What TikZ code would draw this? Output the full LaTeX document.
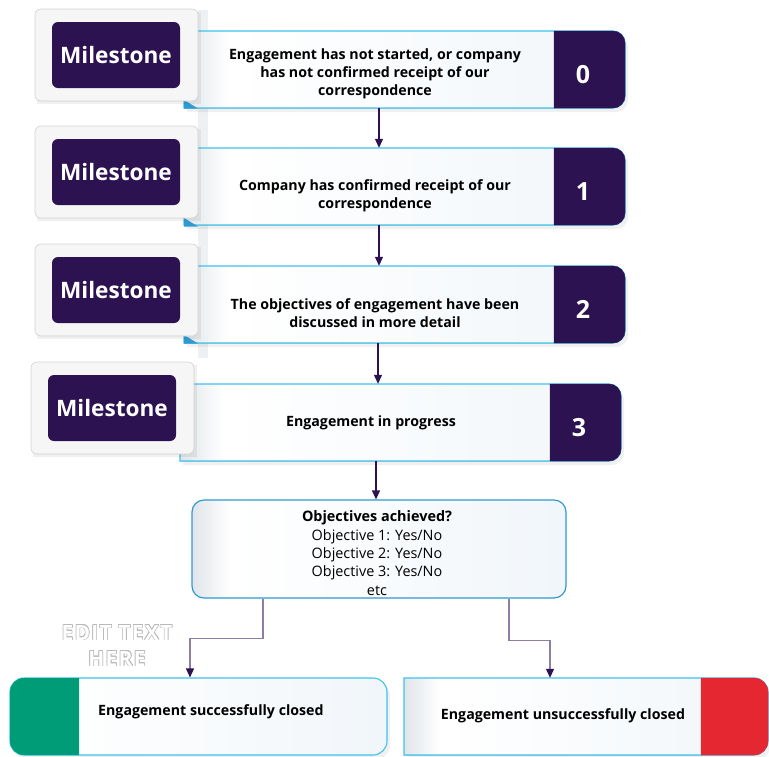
\documentclass[tikz,border=0pt]{standalone}
\usepackage{fontspec}
\setmainfont{Open Sans}
\usepackage[copies]{contour}
\usetikzlibrary{arrows.meta}
\definecolor{mpurple}{HTML}{2C1250}
\definecolor{mcyan}{HTML}{3EC3EE}
\definecolor{dblue}{HTML}{2E9AD0}
\definecolor{mgreen}{HTML}{009B77}
\definecolor{mred}{HTML}{E52731}
\definecolor{cardfill}{HTML}{F6F6F6}
\definecolor{cardline}{HTML}{D2D2D2}
\definecolor{lineg}{HTML}{8C7FA3}
\definecolor{shadeL}{HTML}{E0E5E9}
\definecolor{shadeR}{HTML}{F1F6FA}
\definecolor{stripc}{HTML}{EEF1F3}
\pgfdeclarehorizontalshading{boxsh}{100bp}{color(0bp)=(shadeL); color(25bp)=(shadeL); color(30bp)=(white); color(75bp)=(shadeR); color(100bp)=(shadeR)}
\tikzset{
  rr/.style n args={5}{insert path={(#1,#2) -- ({#3-#5},#2) arc[start angle=-90,end angle=0,radius=#5] -- (#3,{#4-#5}) arc[start angle=0,end angle=90,radius=#5] -- (#1,#4) -- cycle}},
  lr/.style n args={5}{insert path={({#1+#5},#2) -- (#3,#2) -- (#3,#4) -- ({#1+#5},#4) arc[start angle=90,end angle=180,radius=#5] -- (#1,{#2+#5}) arc[start angle=180,end angle=270,radius=#5] -- cycle}},
  boxshade/.style={shading=boxsh, shading angle=0},
  shadowc/.style={fill=black, opacity=0.06},
  boxline/.style={draw=mcyan, line width=1.1pt},
  cardn/.style={draw=cardline, line width=0.6pt, fill=cardfill, rounded corners=6pt, inner sep=0pt},
  msn/.style={fill=mpurple, rounded corners=6pt, text=white, font=\bfseries\fontsize{22.6}{26}\selectfont, minimum width=128pt, minimum height=66pt, inner sep=0pt},
  boxn/.style={inner sep=0pt, minimum width=441pt, minimum height=77pt},
  steptext/.style={align=center, font=\bfseries\fontsize{14.2}{18}\selectfont, inner sep=0pt},
  numn/.style={text=white, font=\bfseries\fontsize{25}{28}\selectfont, inner sep=0pt},
  tri/.style={fill=dblue},
  arr/.style={draw=mpurple, line width=1.2pt, -{Triangle[length=9pt,width=8pt]}},
  conn/.style={draw=lineg, line width=1.2pt, -{Triangle[length=9pt,width=8pt,color=mpurple]}},
  dect/.style={align=center, font=\fontsize{14.4}{18.3}\selectfont, inner sep=0pt},
  endtext/.style={font=\bfseries\fontsize{14.2}{16}\selectfont, inner sep=0pt},
  editn/.style={font=\bfseries\fontsize{21}{28}\selectfont\addfontfeatures{LetterSpace=6}, align=center, inner sep=0pt, text=white},
}
% #1 name, #2 left x, #3 top y, #4 text, #5 number, #6 text y offset
\newcommand\stepblk[6]{%
  \fill[shadowc] [rr={#2+3}{#3+4}{#2+444}{#3+81}{12}];
  \fill[boxshade] [rr={#2}{#3}{#2+441}{#3+77}{12}];
  \draw[boxline] [rr={#2}{#3}{#2+441}{#3+77}{12}];
  \filldraw[fill=mpurple, draw=mpurple, line width=0.4pt] [rr={#2+370}{#3}{#2+441}{#3+77}{12}];
  \node[boxn] (#1) at (#2+220.5,#3+38.5) {};
  \node[steptext] (#1t) at (#2+191,#3+#6) {#4};
  \node[numn] (#1n) at (#2+399,#3+43.5) {#5};
}
\newcommand\cardblk[3]{%
  \fill[shadowc] (#2-147,#3-19) rectangle (#2+17,#3+73);
  \node[cardn, minimum width=163pt, minimum height=92pt] (#1c) at (#2-67.5,#3+24) {};
  \node[msn] (#1m) at (#2-68,#3+24) {Milestone};
}
\begin{document}
\begin{tikzpicture}[x=1pt,y=-1pt]
\useasboundingbox (0,0) rectangle (769,756);
\fill[white] (0,0) rectangle (769,756);
% faint strip behind cards
\fill[stripc] (198,10) rectangle (208,358);

\stepblk{s0}{184}{31}{Engagement has not started, or company\\has not confirmed receipt of our\\correspondence}{0}{42.5}
\stepblk{s1}{184}{148}{Company has confirmed receipt of our\\correspondence}{1}{48}
\stepblk{s2}{184}{266}{The objectives of engagement have been\\discussed in more detail}{2}{47}
\stepblk{s3}{180}{384}{Engagement in progress}{3}{38.5}

\fill[tri] (184,100) -- (184,108.5) -- (198,108.5) -- cycle;
\fill[tri] (184,218) -- (184,226.5) -- (198,226.5) -- cycle;
\fill[tri] (184,335) -- (184,343.5) -- (198,343.5) -- cycle;

\cardblk{s0}{184}{31}
\cardblk{s1}{184}{148}
\cardblk{s2}{184}{266}
\cardblk{s3}{180}{384}

% decision box
\node[draw=dblue, line width=1.2pt, rounded corners=12pt, boxshade, minimum width=374pt, minimum height=98pt, inner sep=0pt] (dec) at (379,549) {};
\node[dect] (dect) at (377,553) {\textbf{Objectives achieved?}\\Objective 1: Yes/No\\Objective 2: Yes/No\\Objective 3: Yes/No\\etc};

% end boxes
\fill[shadowc, rounded corners=14pt] (13,682) rectangle (390,759);
\node[draw=mcyan, line width=1.1pt, rounded corners=14pt, boxshade, minimum width=377pt, minimum height=77pt, inner sep=0pt] (okb) at (198.5,716.5) {};
\fill[mgreen] [lr={10}{678}{79}{755}{14}];
\node[endtext, anchor=west] (okt) at (98,712) {Engagement successfully closed};

\fill[shadowc] [rr={407}{682}{771}{759}{14}];
\fill[boxshade] [rr={404}{678}{768}{755}{14}];
\draw[boxline] [rr={404}{678}{768}{755}{14}];
\node[inner sep=0pt, minimum width=364pt, minimum height=77pt] (nob) at (586,716.5) {};
\filldraw[fill=mred, draw=mred, line width=0.4pt] [rr={701}{678}{768}{755}{14}];
\node[endtext] (not) at (563,716) {Engagement unsuccessfully closed};

% arrows between steps
\draw[arr] ([xshift=-25.5pt]s0.south) -- ([xshift=-25.5pt]s0.south |- s1.north);
\draw[arr] ([xshift=-25.5pt]s1.south) -- ([xshift=-25.5pt]s1.south |- s2.north);
\draw[arr] ([xshift=-26.5pt]s2.south) -- ([xshift=-26.5pt]s2.south |- s3.north);
\draw[arr] ([xshift=-24.5pt]s3.south) -- ([xshift=-24.5pt]s3.south |- dec.north);

% connectors to outcomes
\draw[conn] ([xshift=-116pt]dec.south) -- ++(0,40) -| ([xshift=-8.5pt]okb.north);
\draw[conn] ([xshift=130pt]dec.south) -- ++(0,42) -| ([xshift=-36pt]nob.north);

% placeholder text
\node[editn] (edit) at (117,646) {\contourlength{0.5pt}\contour{gray!55}{EDIT TEXT}\\[-2pt]\contour{gray!55}{HERE}};
\end{tikzpicture}
\end{document}
